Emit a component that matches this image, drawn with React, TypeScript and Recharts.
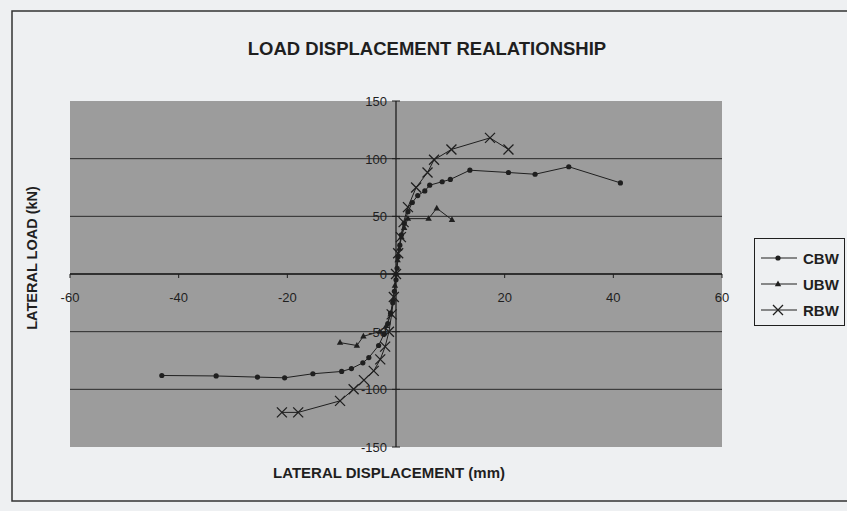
import React from "react";
import {
  ScatterChart,
  Scatter,
  XAxis,
  YAxis,
  CartesianGrid,
  ReferenceLine,
} from "recharts";

// lateral displacement (mm) / lateral load (kN)
const cbwDisp = [-43.1, -33.1, -25.5, -20.5, -15.3, -10, -8.2, -6.1, -5, -3.2, -2.2, -1.5, -1, -0.6, -0.3, 0, 0.2, 0.4, 0.7, 1, 1.5, 2.2, 3, 4, 5.3, 6.2, 8.5, 10, 13.6, 20.7, 25.6, 31.8, 41.3];
const cbwLoad = [-88, -88.4, -89.4, -90, -86.5, -84.5, -82, -77, -72.5, -62, -52, -43, -34, -25, -15, -5, 5, 15, 25, 34, 44, 54, 62, 68, 72, 77, 80, 82, 90, 88, 86.5, 93, 79];

const ubwDisp = [-10.3, -7.2, -6, -3, -1.8, -1, -0.5, -0.2, 0, 0.3, 0.6, 1, 1.5, 2.2, 6, 7.5, 10.3];
const ubwLoad = [-59.5, -62, -54, -50, -45, -35, -22, -10, 0, 12, 22, 32, 40, 48, 48, 57, 47];

const rbwDisp = [-21, -18, -10.3, -7.8, -5.9, -4.1, -2.9, -2, -1.3, -0.8, -0.4, 0, 0.4, 0.9, 1.4, 2.2, 3.7, 5.8, 7, 10.2, 17.3, 20.7];
const rbwLoad = [-120, -120, -110, -100, -92, -84, -74, -63, -50, -35, -20, 0, 18, 32, 45, 58, 75, 88, 99, 108, 118, 108];

const xTicks = [-60, -40, -20, 0, 20, 40, 60];
const yTicks = [-150, -100, -50, 0, 50, 100, 150];
const seriesNames = ["CBW", "UBW", "RBW"];

const zip = (xs: number[], ys: number[]) => xs.map((x, i) => ({ x, y: ys[i] }));
const cbw = zip(cbwDisp, cbwLoad);
const ubw = zip(ubwDisp, ubwLoad);
const rbw = zip(rbwDisp, rbwLoad);

const W = 847;
const H = 511;
// plot area: x 70..722, y 101..447 (axis height/width added below)
const X_AXIS_H = 30;
const Y_AXIS_W = 40;
const M = { top: 101, right: 125, bottom: 64 - X_AXIS_H, left: 70 - Y_AXIS_W };
const X0 = 70 + (722 - 70) / 2;
const Y0 = 101 + (447 - 101) / 2;
const INK = "#1f1f1f";
const FONT = "'Liberation Sans', Arial, sans-serif";

const Dot = (p: any) => <circle cx={p.cx} cy={p.cy} r={2.6} fill={INK} />;
const Tri = (p: any) => (
  <polygon points={`${p.cx},${p.cy - 3.5} ${p.cx + 3.2},${p.cy + 2.2} ${p.cx - 3.2},${p.cy + 2.2}`} fill={INK} />
);
const Cross = (p: any) => (
  <path d={`M${p.cx - 5},${p.cy - 5}L${p.cx + 5},${p.cy + 5}M${p.cx - 5},${p.cy + 5}L${p.cx + 5},${p.cy - 5}`} stroke={INK} strokeWidth={1.3} />
);

const XTick = (p: any) => {
  const v = p.payload.value;
  return (
    <g>
      <line x1={p.x} x2={p.x} y1={Y0} y2={Y0 + 4} stroke={INK} />
      {v !== 0 && (
        <text x={p.x} y={Y0 + 28} textAnchor="middle" fontSize={13} fill={INK} fontFamily={FONT}>
          {v}
        </text>
      )}
    </g>
  );
};

const YTick = (p: any) => (
  <g>
    <line x1={X0 - 4} x2={X0 + 4} y1={p.y} y2={p.y} stroke={INK} />
    <text x={X0 - 9} y={p.y} dy={5} textAnchor="end" fontSize={13} fill={INK} fontFamily={FONT}>
      {p.payload.value}
    </text>
  </g>
);

const legendShapes = [
  <circle cx={19} cy={0} r={2.6} fill={INK} />,
  <polygon points="19,-3.5 22.2,2.2 15.8,2.2" fill={INK} />,
  <path d="M14,-5L24,5M14,5L24,-5" stroke={INK} strokeWidth={1.3} />,
];

const LegendBox = () => (
  <div
    style={{
      position: "absolute",
      left: 754,
      top: 238,
      width: 91,
      height: 88,
      border: `1.5px solid ${INK}`,
      background: "#eef0f2",
      boxSizing: "border-box",
    }}
  >
    {seriesNames.map((n, i) => (
      <div key={n} style={{ display: "flex", alignItems: "center", height: 26, marginTop: i === 0 ? 6 : 0 }}>
        <svg width={44} height={14} style={{ marginLeft: 4 }}>
          <g transform="translate(0,7)">
            <line x1={2} x2={38} y1={0} y2={0} stroke={INK} strokeWidth={1} />
            {legendShapes[i]}
          </g>
        </svg>
        <span style={{ fontFamily: FONT, fontWeight: "bold", fontSize: 15, color: INK }}>{n}</span>
      </div>
    ))}
  </div>
);

export default function App() {
  return (
    <div style={{ position: "absolute", left: 0, top: 0, width: W, height: H, background: "#eef0f2" }}>
      <svg width={W} height={H} style={{ position: "absolute", left: 0, top: 0 }}>
        <rect x={12} y={11} width={840} height={490} fill="none" stroke="#333" strokeWidth={1.5} />
        <text x={427} y={55} textAnchor="middle" fontSize={18.5} fontWeight="bold" fill={INK} fontFamily={FONT}>
          LOAD DISPLACEMENT REALATIONSHIP
        </text>
        <text x={389} y={478} textAnchor="middle" fontSize={15} fontWeight="bold" fill={INK} fontFamily={FONT}>
          LATERAL DISPLACEMENT (mm)
        </text>
        <text
          x={37}
          y={258}
          textAnchor="middle"
          fontSize={14.5}
          fontWeight="bold"
          fill={INK}
          fontFamily={FONT}
          transform="rotate(-90 37 258)"
        >
          LATERAL LOAD (kN)
        </text>
      </svg>
      <div style={{ position: "absolute", left: 0, top: 0 }}>
        <ScatterChart width={W} height={H} margin={M}>
          <CartesianGrid
            horizontal
            vertical={false}
            fill="#9c9c9c"
            fillOpacity={1}
            stroke="#2b2b2b"
            horizontalValues={[-100, -50, 0, 50, 100]}
          />
          <XAxis
            type="number"
            dataKey="x"
            domain={[-60, 60]}
            ticks={xTicks}
            height={X_AXIS_H}
            axisLine={false}
            tickLine={false}
            tick={XTick}
            interval={0}
          />
          <YAxis
            type="number"
            dataKey="y"
            domain={[-150, 150]}
            ticks={yTicks}
            width={Y_AXIS_W}
            axisLine={false}
            tickLine={false}
            tick={YTick}
            interval={0}
          />
          <ReferenceLine x={0} stroke={INK} strokeWidth={1.3} />
          <ReferenceLine y={0} stroke={INK} strokeWidth={1.3} />
          <Scatter name="CBW" data={cbw} line={{ stroke: INK, strokeWidth: 1 }} shape={Dot} isAnimationActive={false} />
          <Scatter name="UBW" data={ubw} line={{ stroke: INK, strokeWidth: 1 }} shape={Tri} isAnimationActive={false} />
          <Scatter name="RBW" data={rbw} line={{ stroke: INK, strokeWidth: 1 }} shape={Cross} isAnimationActive={false} />
        </ScatterChart>
      </div>
      <LegendBox />
    </div>
  );
}
